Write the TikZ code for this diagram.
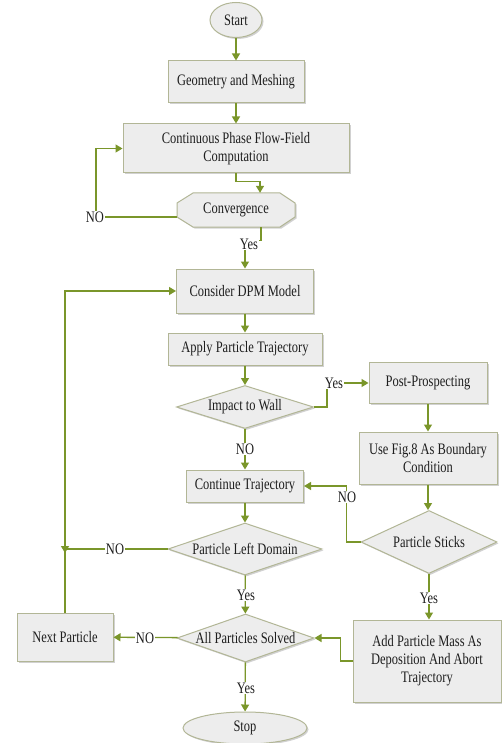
\documentclass[tikz,border=0pt]{standalone}
\usepackage{fontspec}
\setmainfont{Liberation Serif}[FakeStretch=0.78]
\usetikzlibrary{shapes.geometric,shadows,arrows.meta}
\definecolor{arrc}{RGB}{122,150,42}
\definecolor{bordc}{RGB}{178,182,150}
\definecolor{boxf}{RGB}{237,237,237}
\definecolor{txtc}{RGB}{30,30,30}
\newcommand{\flowfont}{\fontsize{16}{18}\selectfont}
\begin{document}
\begin{tikzpicture}[x=1pt,y=-1pt,
 shp/.style={draw=bordc, line width=1pt, fill=boxf, text=txtc, drop shadow={shadow xshift=1.5pt, shadow yshift=-1.5pt, fill=black, opacity=0.18}},
 pbox/.style={shp, rectangle, align=center, inner sep=2pt, font=\flowfont},
 dia/.style={shp, diamond, shape aspect=3, inner sep=0pt, font=\flowfont},
 ell/.style={shp, ellipse, inner sep=0pt, font=\flowfont},
 arr/.style={draw=arrc, line width=1.3pt, -{Triangle[length=7pt,width=8pt]}},
 ln/.style={draw=arrc, line width=1.3pt},
 lab/.style={fill=white, text=txtc, inner sep=1pt, font=\flowfont}]
\useasboundingbox[fill=white] (0,0) rectangle (502,743);
% nodes
\node[ell, minimum width=52pt, minimum height=35pt] (start) at (236,20) {Start};
\node[pbox, minimum width=136pt, minimum height=42pt] (geo) at (236,82) {Geometry and Meshing};
\node[pbox, minimum width=226pt, minimum height=49pt] (cont) at (236,148.5) {Continuous Phase Flow-Field\\Computation};
\path[shp] (193,193) -- (280,193) -- (295,203) -- (295,217) -- (280,227) -- (193,227) -- (177,217) -- (177,203) -- cycle;
\node[font=\flowfont, text=txtc, minimum width=118pt, minimum height=34pt, inner sep=0pt] (conv) at (236,210) {Convergence};
\coordinate (convsw) at (177,217);
\node[pbox, minimum width=137pt, minimum height=44pt] (dpm) at (245,291) {Consider DPM Model};
\node[pbox, minimum width=154pt, minimum height=32pt] (apt) at (245,349) {Apply Particle Trajectory};
\node[dia, minimum width=137pt, minimum height=43pt] (imp) at (245,407) {Impact to Wall};
\node[pbox, minimum width=118pt, minimum height=41pt] (post) at (428,383) {Post-Prospecting};
\node[pbox, minimum width=138pt, minimum height=52pt] (fig) at (428,458) {Use Fig.8 As Boundary\\Condition};
\node[dia, minimum width=136pt, minimum height=63pt] (stk) at (429,542) {Particle Sticks};
\node[pbox, minimum width=117pt, minimum height=32pt] (ct) at (245,486) {Continue Trajectory};
\node[dia, minimum width=154pt, minimum height=52pt] (pld) at (245,549) {Particle Left Domain};
\node[pbox, minimum width=96pt, minimum height=48pt] (next) at (65,637) {Next Particle};
\node[dia, minimum width=137pt, minimum height=48pt] (all) at (245.5,638) {All Particles Solved};
\node[pbox, minimum width=148pt, minimum height=82pt] (add) at (427,661) {Add Particle Mass As\\Deposition And Abort\\Trajectory};
\node[ell, minimum width=124pt, minimum height=32pt] (stop) at (245,728) {Stop};
% connectors
\draw[arr] (start) -- (geo);
\draw[arr] (geo) -- (cont);
\draw[arr] (cont.south) -- ++(0,8) -| ([xshift=24pt]conv.north);
\draw[arr] (convsw) -- (96,217) |- (cont.west);
\node[lab] at (95,217) {NO};
\draw[arr] ([xshift=25pt]conv.south) -- ++(0,13) -| (dpm.north);
\node[lab] at (249,244) {Yes};
\draw[arr] (dpm) -- (apt);
\draw[arr] (apt) -- (imp);
\draw[arr] (imp.east) -- ++(13,0) |- (post.west);
\node[lab] at (334,383) {Yes};
\draw[arr] (imp) -- (ct);
\node[lab] at (245,449) {NO};
\draw[arr] (post) -- (fig);
\draw[arr] (fig.south) -- (fig.south |- stk.north);
\draw[arr] (stk.west) -- ++(-14,0) |- (ct.east);
\node[lab] at (347,497) {NO};
\draw[arr] (ct) -- (pld);
\coordinate (mergeA) at (65,540);
\coordinate (mergeB) at (65,553);
\draw[ln] (pld.west) -- (pld.west -| mergeA);
\draw[arr] (mergeA) -- (mergeB);
\node[lab] at (115,549) {NO};
\draw[arr] (next.north) |- (dpm.west);
\draw[arr] (pld) -- (all);
\node[lab] at (246,595) {Yes};
\draw[arr] (all) -- (next);
\node[lab] at (145,638) {NO};
\draw[arr] (all) -- (stop);
\node[lab] at (246,688) {Yes};
\draw[arr] (stk.south) -- (stk.south |- add.north);
\node[lab] at (429,598) {Yes};
\draw[arr] (add.west) -- ++(-12,0) |- (all.east);
\end{tikzpicture}
\end{document}
